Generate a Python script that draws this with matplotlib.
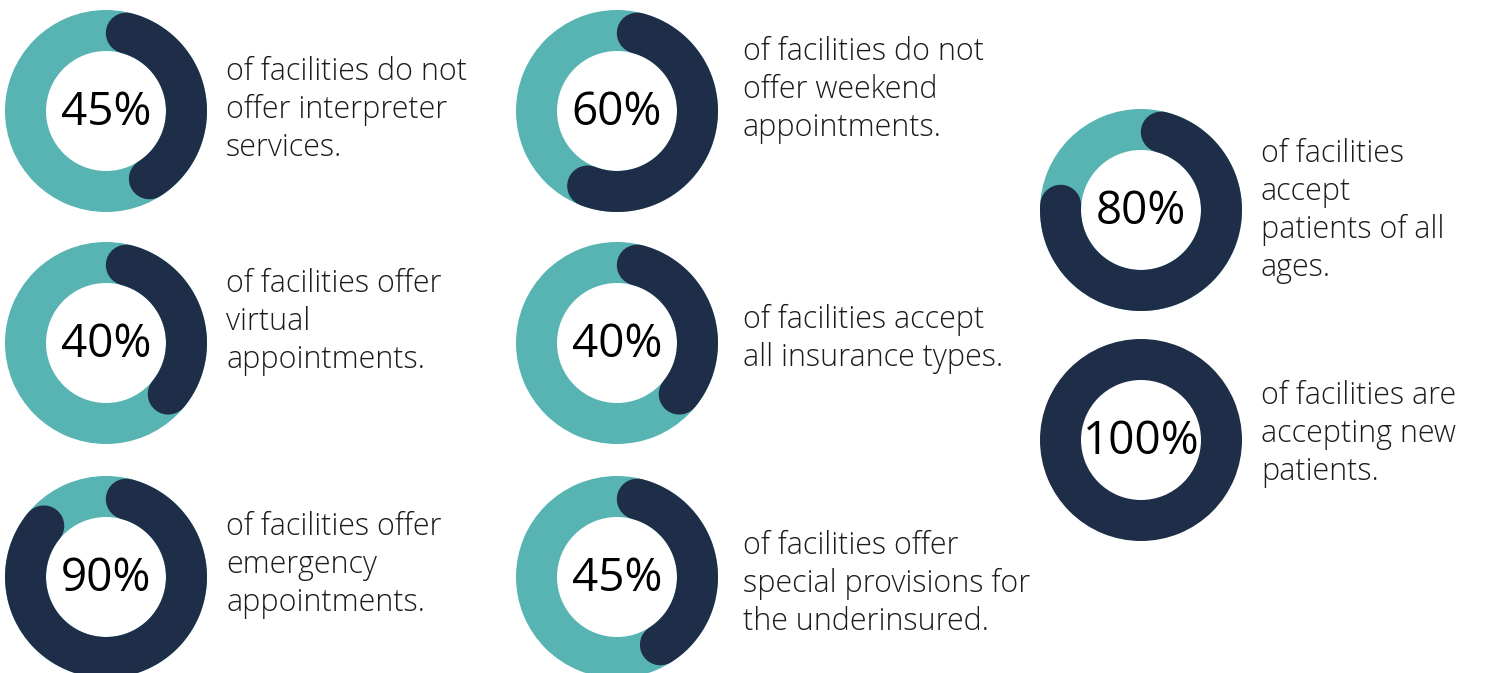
import numpy as np
import matplotlib
matplotlib.use("Agg")
import matplotlib.pyplot as plt
from matplotlib.patches import Wedge

# Share of facilities for each statement (percent)
values = [45, 40, 90, 60, 40, 45, 80, 100]
labels = [
    "of facilities do not\noffer interpreter\nservices.",
    "of facilities offer\nvirtual\nappointments.",
    "of facilities offer\nemergency\nappointments.",
    "of facilities do not\noffer weekend\nappointments.",
    "of facilities accept\nall insurance types.",
    "of facilities offer\nspecial provisions for\nthe underinsured.",
    "of facilities\naccept\npatients of all\nages.",
    "of facilities are\naccepting new\npatients.",
]

TEAL = "#57b4b3"
NAVY = "#1f2e48"
TEXT = "#1c1c1c"
PCT_FONT = "Open Sans"
BODY_FONT = "Open Sans"

W, H = 1489, 673
DPI = 100
fig = plt.figure(figsize=(W / DPI, H / DPI), dpi=DPI)
ax = fig.add_axes([0, 0, 1, 1])
ax.set_xlim(0, W)
ax.set_ylim(H, 0)
ax.set_aspect("equal")
ax.axis("off")

# layout: donut centres and text blocks (pixel coordinates)
centers = [(106, 111), (106, 343), (106, 577),
           (617, 111), (617, 343), (617, 577),
           (1141, 210), (1141, 440)]
text_x = [226, 226, 226, 743, 743, 743, 1261, 1261]
text_y = [110, 322, 565, 90, 339, 584, 211, 434]

R_OUT = 101
RING = 41
R_MID = R_OUT - RING / 2
lw_pt = RING * 72 / DPI
LINE_PITCH = 38
cap = (RING / 2) / R_MID  # angle covered by a round cap

for (cx, cy), v, lab, tx, ty in zip(centers, values, labels, text_x, text_y):
    if v >= 100:
        ax.add_patch(Wedge((cx, cy), R_OUT, 0, 360, width=RING,
                           facecolor=NAVY, edgecolor="none"))
    else:
        ax.add_patch(Wedge((cx, cy), R_OUT, 0, 360, width=RING,
                           facecolor=TEAL, edgecolor="none"))
        # clockwise arc from 12 o'clock (y axis points down); caps stay inside
        t = np.linspace(cap, 2 * np.pi * v / 100 - cap, 300)
        xs = cx + R_MID * np.sin(t)
        ys = cy - R_MID * np.cos(t)
        ax.plot(xs, ys, color=NAVY, lw=lw_pt, solid_capstyle="round")
    ax.text(cx, cy + 2, f"{v}%", ha="center", va="center", fontsize=33,
            family=PCT_FONT, color="black")
    lines = lab.split("\n")
    n = len(lines)
    for i, line in enumerate(lines):
        ax.text(tx, ty + (i - (n - 1) / 2) * LINE_PITCH, line, ha="left",
                va="center", fontsize=22, family=BODY_FONT, fontweight="light",
                color=TEXT)

fig.savefig("out.png", dpi=DPI, facecolor="white")
